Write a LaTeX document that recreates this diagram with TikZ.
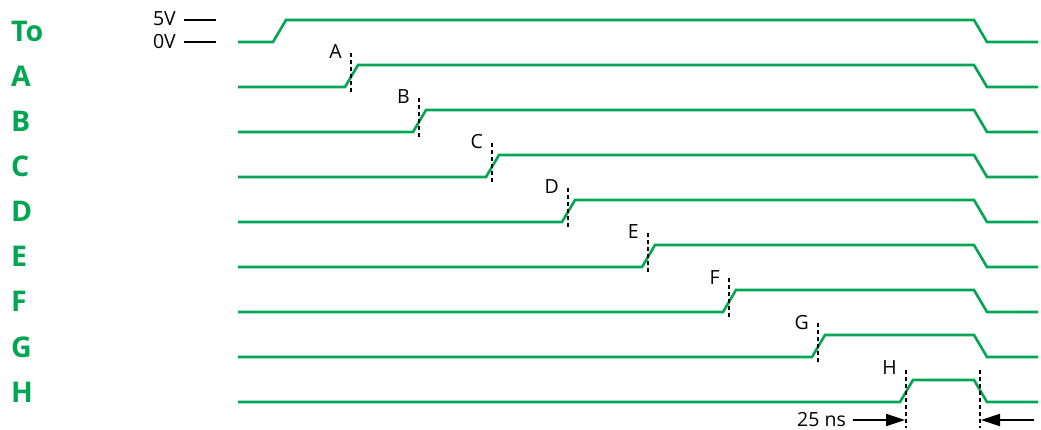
\documentclass[tikz,border=0pt]{standalone}
\usepackage{fontspec}
\setmainfont{Open Sans}
\usetikzlibrary{arrows.meta}
\definecolor{sig}{RGB}{0,166,81}
\begin{document}
\begin{tikzpicture}[x=1pt,y=-1pt,
  wave/.style={draw=sig,line width=2.6pt,line join=miter},
  dotline/.style={draw=black,line width=2.8pt,dash pattern=on 4pt off 3pt},
  rowlab/.style={text=sig,font=\bfseries\fontsize{28.5}{28.5}\selectfont,anchor=base west,inner sep=0pt},
  edgelab/.style={font=\fontsize{19.5}{19.5}\selectfont,anchor=base east,inner sep=0pt},
  lvl/.style={draw=black,line width=2pt},
  arr/.style={draw=black,line width=2pt,-{Triangle[length=19pt,width=12pt]}}]
\useasboundingbox (0,0) rectangle (1041,430);
% row labels
\node[rowlab] (rTo) at (11,42) {To};
\foreach \n [count=\i from 1] in {A,B,C,D,E,F,G,H}{
  \node[rowlab] (r\n) at (11,{42+45*\i}) {\n};
}
% level marks
\node[edgelab,anchor=east] (v5) at (176,19) {5V};
\node[edgelab,anchor=east] (v0) at (176,42) {0V};
\coordinate (v5a) at (184,20); \coordinate (v5b) at (216,20);
\coordinate (v0a) at (184,42); \coordinate (v0b) at (216,42);
\draw[lvl] (v5a) -- (v5b);
\draw[lvl] (v0a) -- (v0b);
% To waveform
\draw[wave] (238,42) -- (273,42) -- (286,20) -- (974,20) -- (987,42) -- (1038,42);
% delayed waveforms
\foreach \n/\d [count=\i from 1] in {A/351,B/419,C/492,D/568,E/648,F/729,G/818,H/906}{
  \pgfmathsetmacro{\hy}{20+45*\i}
  \pgfmathsetmacro{\ly}{\hy+22}
  \draw[wave] (238,\ly) -- (\d-6,\ly) -- (\d+7,\hy) -- (974,\hy) -- (987,\ly) -- (1038,\ly);
  \node[edgelab] (l\n) at (\d-9,\hy-6) {\n};
}
\foreach \n/\d [count=\i from 1] in {A/351,B/419,C/492,D/568,E/648,F/729,G/818}{
  \pgfmathsetmacro{\hy}{20+45*\i}
  \coordinate (t\n) at (\d,\hy-12);
  \coordinate (b\n) at (\d,\hy+28);
  \draw[dotline] (t\n) -- (b\n);
}
% H markers
\coordinate (tH) at (906,370); \coordinate (bH) at (906,428);
\coordinate (tH2) at (980,370); \coordinate (bH2) at (980,428);
\draw[dotline] (tH) -- (bH);
\draw[dotline] (tH2) -- (bH2);
% 25 ns
\node[edgelab,anchor=east] (ns) at (846,420) {25 ns};
\coordinate (nsTip) at (905,420);
\draw[arr] ([xshift=7pt]ns.east) -- (nsTip);
\coordinate (rS) at (1034,420); \coordinate (rTip) at (981,420);
\draw[arr] (rS) -- (rTip);
\end{tikzpicture}
\end{document}
